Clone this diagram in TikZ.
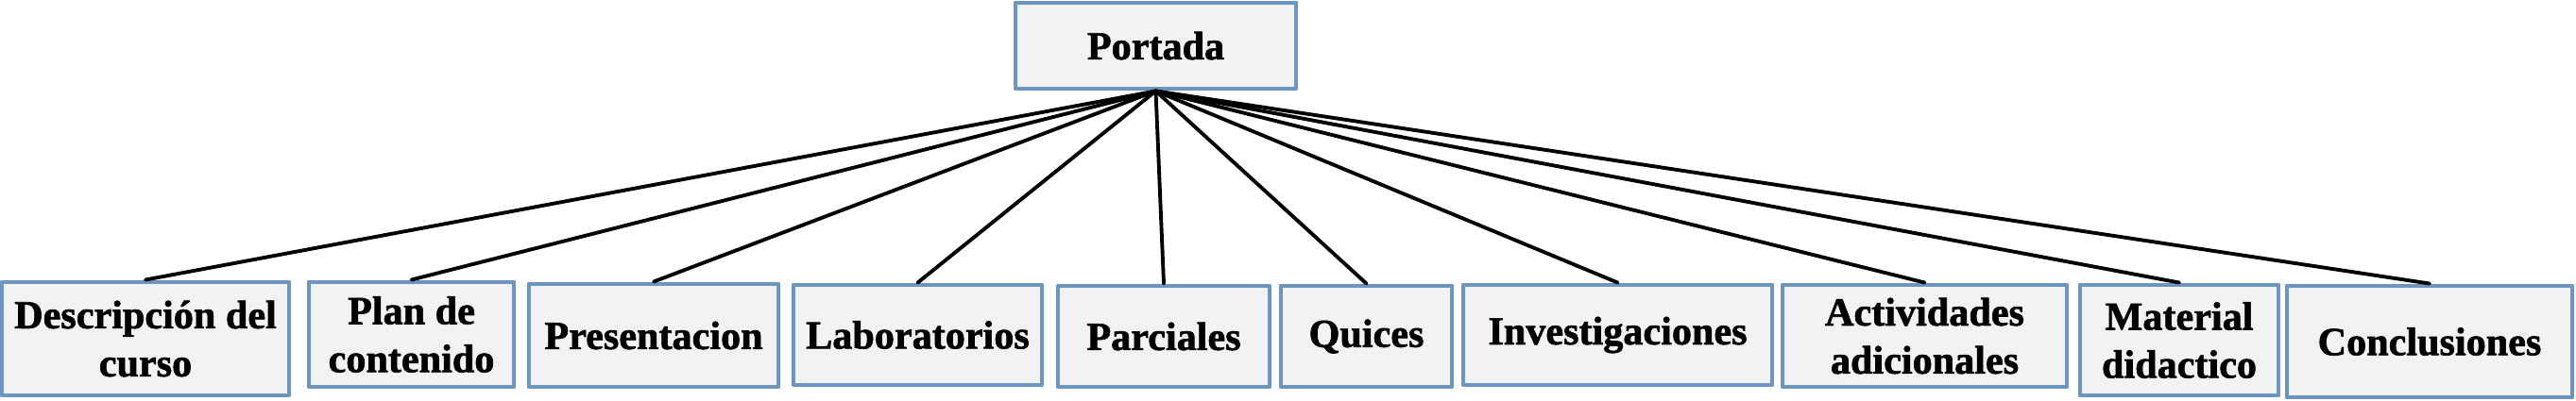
\documentclass[tikz,border=0pt]{standalone}
\usepackage{fontspec}
\setmainfont{Liberation Serif}[BoldFeatures={FakeBold=1.5}]
\definecolor{cajaborde}{RGB}{108,150,192}
\definecolor{cajafondo}{RGB}{242,242,242}
\begin{document}
\begin{tikzpicture}[font=\bfseries\fontsize{12}{14.5}\selectfont, line join=round, line cap=round,
	caja/.style={draw=cajaborde, fill=cajafondo, line width=1.4pt, align=center, inner sep=0pt}]
	\useasboundingbox (0,0) rectangle (27.27,4.24);
	\node[caja, minimum width=2.97cm, minimum height=.91cm] (portada) at (12.235,3.755) {Portada};
	% secciones del curso
	\foreach \n/\x/\y/\w/\h/\t in {desc/1.54/.65/3.04/1.2/{Descripción del\\curso},
		plan/4.355/.695/2.17/1.11/{Plan de\\contenido},
		pres/6.92/.685/2.64/1.09/{Presentacion},
		lab/9.715/.69/2.63/1.06/{Laboratorios},
		parc/12.32/.675/2.24/1.07/{Parciales},
		quic/14.465/.675/1.81/1.07/{Quices},
		inv/17.125/.69/3.27/1.06/{Investigaciones},
		act/20.375/.68/3.01/1.08/{Actividades\\adicionales},
		mat/23.07/.635/2.10/1.17/{Material\\didactico},
		conc/25.72/.62/3.02/1.18/{Conclusiones}}
	{
		\node[caja, minimum width=\w cm, minimum height=\h cm] (\n) at (\x,\y) {\t};
		\draw[line width=1.1pt] (portada.south) -- (\n.north);
	}
\end{tikzpicture}
\end{document}
